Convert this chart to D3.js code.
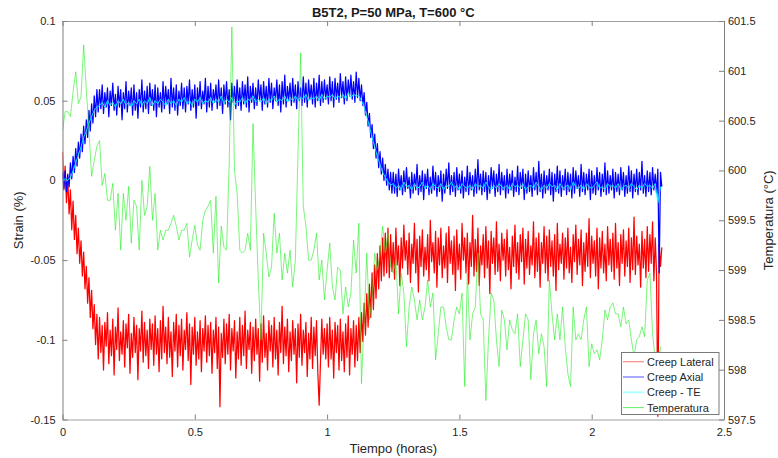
<!DOCTYPE html>
<html><head><meta charset="utf-8">
<script src="https://cdn.jsdelivr.net/npm/d3@7"></script>
<style>body{margin:0;background:#fff}svg{display:block}</style>
</head><body><svg id="c" width="778" height="458"></svg>
<script>
// sampling intervals of the logged data (hours)
const strainStepHours = 0.005;
const teStepHours = 0.01;
const tempStepHours = 0.01;

const creepLateral = [
0.018,-0.006,0.009,-0.014,0.001,-0.021,-0.006,-0.031,-0.013,-0.037,-0.022,-0.046,-0.030,-0.052,-0.038,-0.060,-0.045,-0.068,-0.054,-0.077,-0.061,-0.086,-0.069,-0.093,-0.078,-0.103,-0.084,
-0.112,-0.086,-0.108,-0.091,-0.119,-0.089,-0.104,-0.083,-0.115,-0.094,
-0.110,-0.087,-0.122,-0.092,-0.106,-0.080,-0.113,-0.095,-0.109,-0.088,
-0.117,-0.090,-0.105,-0.084,-0.121,-0.096,-0.111,-0.086,-0.108,-0.091,
-0.125,-0.093,-0.107,-0.082,-0.114,-0.089,-0.110,-0.094,-0.118,-0.087,
-0.106,-0.090,-0.116,-0.085,-0.109,-0.093,-0.120,-0.088,-0.112,-0.079,
-0.108,-0.092,-0.115,-0.086,-0.111,-0.095,-0.123,-0.089,-0.107,-0.084,
-0.117,-0.091,-0.110,-0.087,-0.119,-0.094,-0.106,-0.083,-0.113,-0.090,
-0.128,-0.092,-0.109,-0.086,-0.116,-0.095,-0.112,-0.088,-0.120,-0.093,
-0.107,-0.085,-0.114,-0.091,-0.110,-0.089,-0.121,-0.094,-0.108,-0.086,
-0.118,-0.092,-0.142,-0.096,-0.111,-0.087,-0.115,-0.090,-0.109,-0.084,
-0.119,-0.093,-0.107,-0.088,-0.124,-0.095,-0.112,-0.086,-0.116,-0.091,
-0.110,-0.082,-0.118,-0.094,-0.106,-0.089,-0.121,-0.092,-0.113,-0.087,
-0.109,-0.093,-0.126,-0.090,-0.114,-0.085,-0.111,-0.096,-0.119,-0.088,
-0.107,-0.091,-0.117,-0.086,-0.112,-0.094,-0.122,-0.089,-0.108,-0.079,
-0.115,-0.092,-0.110,-0.087,-0.120,-0.095,-0.113,-0.088,-0.109,-0.093,
-0.127,-0.090,-0.111,-0.084,-0.116,-0.094,-0.108,-0.089,-0.123,-0.096,
-0.112,-0.086,-0.118,-0.092,-0.110,-0.088,-0.121,-0.141,-0.114,-0.087,
-0.109,-0.093,-0.112,-0.090,-0.117,-0.086,-0.112,-0.094,-0.124,-0.089,
-0.108,-0.091,-0.119,-0.087,-0.113,-0.095,-0.120,-0.090,-0.111,-0.085,
-0.122,-0.093,-0.109,-0.088,-0.117,-0.091,-0.113,
-0.086,-0.108,-0.083,-0.101,-0.077,-0.097,-0.071,-0.092,-0.065,-0.086,-0.058,-0.081,-0.053,-0.074,-0.046,-0.068,-0.041,-0.063,-0.036,-0.060,-0.033,-0.058,-0.030,-0.061,
-0.034,-0.057,-0.039,-0.062,-0.030,-0.053,-0.041,-0.066,-0.036,-0.055,
-0.028,-0.050,-0.038,-0.059,-0.033,-0.064,-0.040,-0.052,-0.027,-0.058,
-0.037,-0.070,-0.035,-0.054,-0.031,-0.060,-0.042,-0.056,-0.034,-0.063,
-0.025,-0.051,-0.039,-0.058,-0.032,-0.067,-0.036,-0.053,-0.030,-0.061,
-0.041,-0.055,-0.033,-0.064,-0.029,-0.052,-0.038,-0.059,-0.035,-0.069,
-0.031,-0.056,-0.040,-0.062,-0.027,-0.050,-0.036,-0.058,-0.033,-0.065,
-0.039,-0.054,-0.022,-0.060,-0.037,-0.057,-0.030,-0.066,-0.041,-0.053,
-0.034,-0.061,-0.029,-0.055,-0.038,-0.071,-0.032,-0.052,-0.036,-0.059,
-0.026,-0.057,-0.040,-0.063,-0.033,-0.050,-0.037,-0.060,-0.031,-0.056,
-0.042,-0.068,-0.035,-0.054,-0.028,-0.058,-0.039,-0.062,-0.034,-0.051,
-0.030,-0.065,-0.037,-0.055,-0.032,-0.059,-0.041,-0.053,-0.026,-0.061,
-0.036,-0.057,-0.033,-0.067,-0.039,-0.052,-0.029,-0.058,-0.035,-0.063,
-0.031,-0.054,-0.038,-0.060,-0.034,-0.069,-0.027,-0.056,-0.040,-0.052,
-0.033,-0.062,-0.036,-0.055,-0.030,-0.058,-0.042,-0.064,-0.034,-0.051,
-0.028,-0.059,-0.037,-0.053,-0.031,-0.066,-0.039,-0.057,-0.033,-0.054,
-0.024,-0.061,-0.035,-0.052,-0.038,-0.060,-0.030,-0.068,-0.036,-0.055,
-0.032,-0.058,-0.040,-0.063,-0.029,-0.053,-0.037,-0.057,-0.033,-0.062,
-0.027,-0.055,-0.039,-0.066,-0.034,-0.052,-0.031,-0.060,-0.038,-0.054,
-0.030,-0.064,-0.036,-0.056,-0.023,-0.059,-0.035,-0.053,-0.040,-0.067,
-0.032,-0.055,-0.037,-0.061,-0.029,-0.057,-0.034,-0.052,-0.026,-0.063,
-0.036,-0.058,-0.148,-0.040,-0.054,-0.042
];

const creepAxial = [
0.005,-0.005,0.006,-0.007,0.004,-0.004,0.011,0.001,0.015,0.005,0.020,0.009,0.024,0.014,0.029,0.018,0.034,0.023,0.038,0.027,0.044,0.031,0.048,0.036,0.053,0.040,0.057,
0.043,0.057,0.045,0.060,0.042,0.055,0.046,0.058,0.040,0.056,
0.047,0.061,0.044,0.054,0.041,0.059,0.046,0.057,0.038,0.055,
0.045,0.062,0.043,0.056,0.047,0.058,0.041,0.060,0.044,0.055,
0.039,0.057,0.046,0.063,0.043,0.056,0.045,0.059,0.042,0.061,
0.047,0.057,0.044,0.060,0.040,0.058,0.046,0.055,0.043,0.062,
0.045,0.059,0.048,0.057,0.042,0.064,0.046,0.058,0.044,0.060,
0.041,0.056,0.047,0.061,0.045,0.058,0.043,0.059,0.048,0.063,
0.044,0.057,0.046,0.060,0.039,0.058,0.047,0.062,0.045,0.056,
0.048,0.064,0.043,0.059,0.046,0.061,0.044,0.057,0.049,0.060,
0.045,0.063,0.047,0.058,0.042,0.060,0.048,0.062,0.046,0.057,
0.038,0.061,0.049,0.059,0.045,0.063,0.047,0.058,0.044,0.062,
0.048,0.060,0.046,0.065,0.043,0.059,0.049,0.061,0.045,0.058,
0.047,0.063,0.050,0.060,0.044,0.062,0.048,0.059,0.046,0.064,
0.049,0.061,0.045,0.058,0.050,0.063,0.047,0.060,0.043,0.062,
0.048,0.066,0.046,0.059,0.050,0.061,0.047,0.064,0.049,0.060,
0.045,0.062,0.050,0.058,0.047,0.065,0.049,0.061,0.046,0.063,
0.051,0.060,0.048,0.064,0.046,0.061,0.050,0.066,0.047,0.062,
0.049,0.063,0.051,0.060,0.048,0.065,0.050,0.062,0.046,0.064,
0.051,0.061,0.049,0.067,0.052,0.062,0.048,0.065,0.050,0.063,
0.053,0.066,0.051,0.062,0.049,0.068,0.052,0.064,0.050,
0.060,0.047,0.055,0.041,0.049,0.034,0.042,0.027,0.035,0.020,0.029,0.014,0.023,0.008,0.018,0.004,0.014,0.000,0.010,-0.003,0.007,-0.006,0.005,-0.008,
0.005,-0.008,0.004,-0.010,0.007,-0.006,0.003,-0.009,0.006,-0.007,
0.008,-0.005,0.002,-0.011,0.005,-0.008,0.004,-0.006,0.010,-0.009,
0.003,-0.007,0.006,-0.012,0.004,-0.005,0.007,-0.009,0.002,-0.008,
0.009,-0.006,0.005,-0.010,0.003,-0.007,0.006,-0.013,0.004,-0.008,
0.007,-0.005,0.011,-0.009,0.003,-0.007,0.005,-0.010,0.008,-0.006,
0.004,-0.008,0.006,-0.011,0.002,-0.007,0.009,-0.009,0.005,-0.006,
0.003,-0.010,0.007,-0.008,0.013,-0.006,0.004,-0.009,0.006,-0.007,
0.005,-0.012,0.003,-0.008,0.008,-0.005,0.006,-0.010,0.004,-0.007,
0.010,-0.009,0.005,-0.006,0.003,-0.011,0.007,-0.008,0.004,-0.006,
0.006,-0.010,0.002,-0.007,0.009,-0.009,0.005,-0.005,0.007,-0.012,
0.004,-0.008,0.006,-0.007,0.003,-0.010,0.008,-0.006,0.005,-0.009,
0.012,-0.007,0.004,-0.011,0.006,-0.008,0.003,-0.006,0.007,-0.009,
0.005,-0.013,0.004,-0.007,0.009,-0.008,0.006,-0.010,0.003,-0.006,
0.007,-0.009,0.005,-0.007,0.004,-0.011,0.008,-0.008,0.006,-0.005,
0.003,-0.010,0.010,-0.007,0.005,-0.009,0.004,-0.006,0.007,-0.012,
0.006,-0.008,0.003,-0.009,0.008,-0.006,0.005,-0.010,0.004,-0.007,
0.011,-0.009,0.006,-0.008,0.003,-0.006,0.007,-0.011,0.005,-0.007,
0.004,-0.009,0.008,-0.006,0.005,-0.010,0.003,-0.008,0.009,-0.007,
0.006,-0.011,0.004,-0.007,0.007,-0.009,0.005,-0.006,0.012,-0.008,
0.003,-0.010,0.006,-0.007,0.005,-0.009,0.008,-0.006,0.004,-0.008,
0.007,-0.058,0.005,-0.004
];

const creepTE = [
0.000,0.001,0.000,0.002,0.006,0.011,0.016,0.021,0.027,0.031,0.036,0.040,0.044,0.046,
0.047,0.049,0.046,0.050,0.047,0.049,0.046,0.050,0.048,0.051,0.047,0.049,0.046,0.050,0.048,0.051,
0.047,0.050,0.048,0.052,0.047,0.050,0.048,0.051,0.049,0.047,0.051,0.048,0.050,0.047,0.051,0.049,
0.052,0.048,0.050,0.047,0.051,0.049,0.052,0.048,0.050,0.049,0.052,0.048,0.051,0.049,0.053,0.048,
0.051,0.049,0.052,0.047,0.050,0.049,0.052,0.048,0.051,0.050,0.053,0.049,0.051,0.049,0.052,0.048,
0.051,0.050,0.053,0.049,0.051,0.050,0.053,0.049,0.052,0.050,0.053,0.050,0.052,0.051,0.054,0.050,
0.052,0.051,0.053,0.050,0.054,0.051,0.053,0.052,0.054,0.051,0.053,0.052,0.054,0.051,0.055,0.052,
0.054,0.053,0.053,
0.050,0.046,0.040,0.034,0.027,0.021,0.015,0.010,0.005,0.002,-0.001,-0.003,
-0.002,-0.005,-0.003,-0.006,-0.001,-0.004,-0.003,-0.006,-0.002,-0.005,
-0.004,-0.001,-0.005,-0.003,-0.006,-0.002,-0.004,-0.005,-0.002,-0.006,
-0.003,-0.004,-0.001,-0.005,-0.003,-0.006,-0.002,-0.004,-0.005,-0.003,
-0.006,-0.002,-0.004,-0.003,-0.005,-0.001,-0.004,-0.006,-0.003,-0.005,
-0.002,-0.004,-0.005,-0.003,-0.006,-0.002,-0.004,-0.003,-0.005,-0.002,
-0.006,-0.004,-0.003,-0.005,-0.001,-0.004,-0.006,-0.003,-0.005,-0.002,
-0.004,-0.003,-0.006,-0.002,-0.005,-0.004,-0.003,-0.006,-0.001,-0.004,
-0.005,-0.003,-0.006,-0.002,-0.004,-0.005,-0.003,-0.001,-0.005,-0.004,
-0.006,-0.002,-0.004,-0.003,-0.005,-0.002,-0.006,-0.004,-0.003,-0.005,
-0.002,-0.004,-0.006,-0.003,-0.005,-0.002,-0.004,-0.003,-0.005,-0.002,
-0.014,-0.004
];

const temperatura = [
600.40,600.59,600.59,600.54,600.79,600.99,600.67,600.74,601.26,600.81,600.40,599.94,600.10,600.24,
600.30,599.85,599.97,599.70,599.70,599.87,599.40,599.77,599.20,599.77,599.50,599.84,599.27,599.70,
599.64,599.20,599.90,599.55,599.64,600.04,599.50,599.77,599.20,599.40,599.30,599.40,599.40,599.47,
599.55,599.44,599.30,599.40,599.40,599.47,599.13,599.30,599.45,599.25,
599.20,599.50,599.60,599.64,599.70,599.17,599.74,598.87,599.44,599.23,599.20,600.07,601.44,600.00,
599.77,599.20,599.17,599.20,599.37,599.20,600.47,599.64,598.90,598.30,599.37,599.17,598.93,599.03,
599.57,599.17,599.37,598.90,599.17,598.97,599.20,598.83,599.10,600.17,601.18,599.64,599.44,599.10,
599.10,599.20,599.37,598.90,599.10,598.70,599.00,599.27,
598.83,598.70,599.03,599.00,598.56,598.83,598.63,598.77,599.30,598.97,599.47,597.86,598.50,599.17,
598.50,598.73,599.17,599.00,599.17,599.44,599.17,599.37,599.03,598.97,599.10,598.56,598.97,598.77,
598.23,598.63,598.83,598.70,598.50,598.70,598.50,598.63,598.90,598.63,598.77,598.10,598.36,598.63,
598.63,598.43,598.30,598.30,598.50,598.63,598.56,598.77,597.83,598.97,
598.30,598.56,598.63,599.17,598.56,598.50,597.69,598.30,598.77,598.70,598.30,598.03,598.60,598.50,
598.20,598.50,598.40,598.36,598.56,598.03,598.30,598.56,598.50,597.90,598.36,598.50,598.16,598.36,
598.23,597.83,598.90,598.56,598.30,598.56,598.30,598.63,598.23,597.96,597.83,598.63,598.30,598.36,
598.30,598.50,598.63,598.03,598.26,
598.16,598.20,598.10,598.30,598.60,598.50,598.63,598.67,598.56,598.56,598.43,598.63,598.46,598.50,
598.30,598.13,598.30,598.33,598.43,598.33,598.90,598.97,598.36,598.10,597.96,598.23
];

const xTicks = [0, 0.5, 1, 1.5, 2, 2.5];
const yLeftTicks = [-0.15, -0.1, -0.05, 0, 0.05, 0.1];
const yRightTicks = [597.5, 598, 598.5, 599, 599.5, 600, 600.5, 601, 601.5];
const seriesNames = ["Creep Lateral", "Creep Axial", "Creep - TE", "Temperatura"];
const titleText = "B5T2, P=50 MPa, T=600 °C";

const FONT = "'Liberation Sans', Arial, Helvetica, sans-serif";
const svg = d3.select("#c");
const L = 62.5, R = 724, T = 21, B = 419.5;
const x = d3.scaleLinear().domain([0, 2.5]).range([L, R]);
const yL = d3.scaleLinear().domain([-0.15, 0.1]).range([B, T]);
const yR = d3.scaleLinear().domain([597.5, 601.5]).range([B, T]);

svg.append("rect").attr("width", 778).attr("height", 458).attr("fill", "#fff");
svg.append("defs").append("clipPath").attr("id", "clip")
  .append("rect").attr("x", L).attr("y", T).attr("width", R - L).attr("height", B - T);

const plot = svg.append("g").attr("clip-path", "url(#clip)");
const makeLine = (step, y) => d3.line().x((d, i) => x(i * step)).y(d => y(d));

const series = [
  {data: creepLateral, gen: makeLine(strainStepHours, yL), color: "#ff0000", w: 1.25},
  {data: creepAxial, gen: makeLine(strainStepHours, yL), color: "#0000ff", w: 1.25},
  {data: creepTE, gen: makeLine(teStepHours, yL), color: "#00ffff", w: 0.9},
  {data: temperatura, gen: makeLine(tempStepHours, yR), color: "#22ee22", w: 0.6}
];
series.forEach(s => {
  plot.append("path").attr("d", s.gen(s.data)).attr("fill", "none")
    .attr("stroke", s.color).attr("stroke-width", s.w).attr("stroke-linejoin", "round");
});

// axes
function styleAxis(g, lineColor) {
  g.select(".domain").attr("stroke", lineColor);
  g.selectAll(".tick line").attr("stroke", "#808080");
  g.selectAll(".tick text").attr("fill", "#262626").attr("font-family", FONT).attr("font-size", 11);
}
const fmt = d => String(d);
svg.append("g").attr("transform", `translate(0,${B})`)
  .call(d3.axisBottom(x).tickValues(xTicks).tickFormat(fmt).tickSize(-5).tickSizeOuter(0).tickPadding(9))
  .call(g => styleAxis(g, "#a0a0a0"));
svg.append("g").attr("transform", `translate(0,${T})`)
  .call(d3.axisTop(x).tickValues(xTicks).tickFormat("").tickSize(-5).tickSizeOuter(0))
  .call(g => styleAxis(g, "#a0a0a0"));
svg.append("g").attr("transform", `translate(${L},0)`)
  .call(d3.axisLeft(yL).tickValues(yLeftTicks).tickFormat(fmt).tickSize(-5).tickSizeOuter(0).tickPadding(7))
  .call(g => styleAxis(g, "#808080"));
svg.append("g").attr("transform", `translate(${R},0)`)
  .call(d3.axisRight(yR).tickValues(yRightTicks).tickFormat(fmt).tickSize(-5).tickSizeOuter(0).tickPadding(4))
  .call(g => styleAxis(g, "#808080"));

// labels
svg.append("text").attr("x", (L + R) / 2).attr("y", 17).attr("text-anchor", "middle")
  .attr("font-family", FONT).attr("font-size", 13).attr("font-weight", "bold").attr("fill", "#1a1a1a").text(titleText);
svg.append("text").attr("x", (L + R) / 2).attr("y", 453).attr("text-anchor", "middle")
  .attr("font-family", FONT).attr("font-size", 13).attr("fill", "#262626").text("Tiempo (horas)");
svg.append("text").attr("transform", `translate(23,${(T + B) / 2}) rotate(-90)`).attr("text-anchor", "middle")
  .attr("font-family", FONT).attr("font-size", 13).attr("fill", "#262626").text("Strain (%)");
svg.append("text").attr("transform", `translate(773,${(T + B) / 2}) rotate(-90)`).attr("text-anchor", "middle")
  .attr("font-family", FONT).attr("font-size", 13).attr("fill", "#262626").text("Temperatura (°C)");

// legend
const lg = svg.append("g");
lg.append("rect").attr("x", 621.5).attr("y", 352.5).attr("width", 97.5).attr("height", 62)
  .attr("fill", "#fff").attr("stroke", "#7a7a7a").attr("stroke-width", 1);
const legendColors = ["#ff8a8a", "#a8a8ff", "#b0ffff", "#66ee66"];
const legendWidths = [1.2, 2, 2, 1];
seriesNames.forEach((name, i) => {
  const yy = 361.7 + i * 15.3;
  lg.append("line").attr("x1", 623).attr("x2", 644).attr("y1", yy).attr("y2", yy)
    .attr("stroke", legendColors[i]).attr("stroke-width", legendWidths[i]);
  lg.append("text").attr("x", 647).attr("y", yy + 4).attr("font-family", FONT).attr("font-size", 11)
    .attr("fill", "#262626").text(name);
});
</script></body></html>
